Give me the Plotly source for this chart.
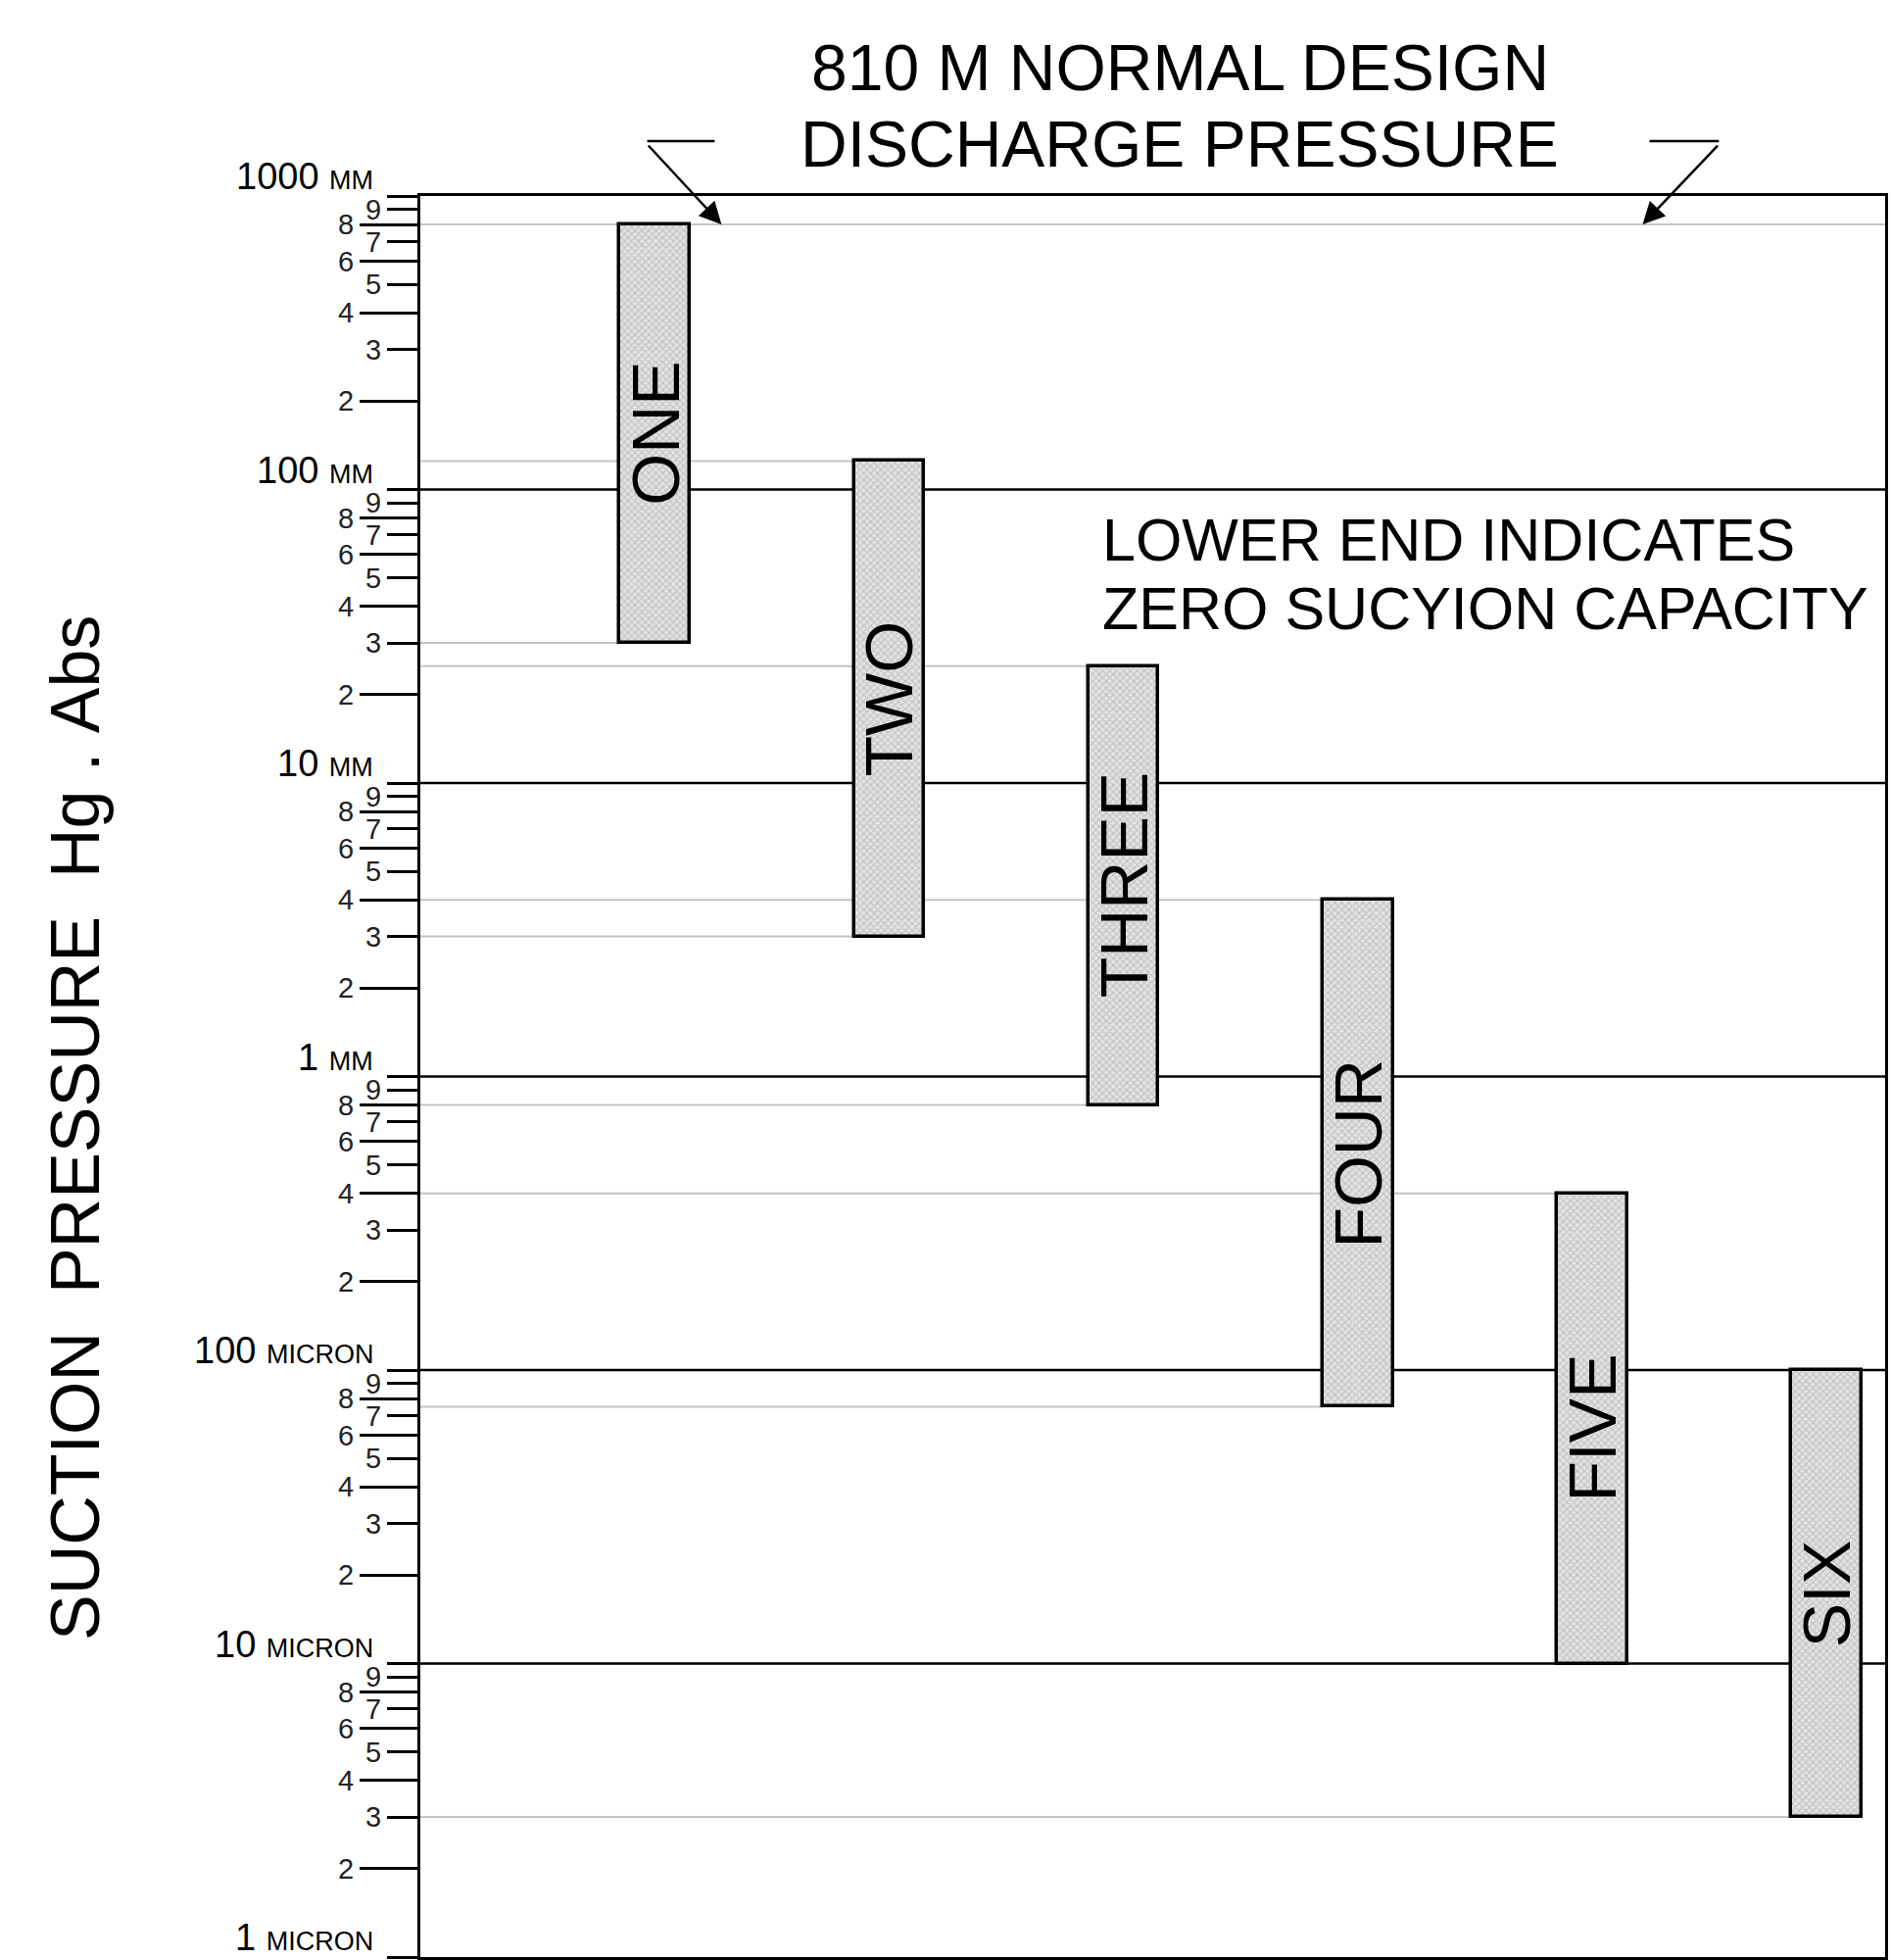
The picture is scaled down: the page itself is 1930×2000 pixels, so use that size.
import numpy as np
import plotly.graph_objects as go

# ---------------- data ----------------
pumps = ["ONE", "TWO", "THREE", "FOUR", "FIVE", "SIX"]
positions = [1, 2, 3, 4, 5, 6]
upper_mm = [800, 125, 25, 4, 0.4, 0.1]          # top of operating range (mm Hg abs)
lower_mm = [30, 3, 0.8, 0.075, 0.01, 0.003]      # zero-capacity end (mm Hg abs)
discharge_mm = 800                                # normal design discharge pressure

decades_mm = [0.001, 0.01, 0.1, 1, 10, 100, 1000]
decade_nums = ["1", "10", "100", "1", "10", "100", "1000"]
decade_units = ["MICRON", "MICRON", "MICRON", "MM", "MM", "MM", "MM"]
odd_minor = [3, 5, 7, 9]
even_minor = [2, 4, 6, 8]

title_lines = ["810 M NORMAL DESIGN", "DISCHARGE PRESSURE"]
note_lines = ["LOWER END INDICATES", "ZERO SUCYION CAPACITY"]
y_title = "SUCTION\u00a0\u00a0PRESSURE\u00a0\u00a0Hg\u00a0.\u00a0Abs"

# ---------------- layout constants ----------------
W, H = 1930, 2000
ML, MR, MT, MB = 429, 3, 200, 3
XMAX = 6.25
BAR_W = 0.3
FONT = "Liberation Sans, Arial, Helvetica, sans-serif"
plot_w = W - ML - MR
plot_h = H - MT - MB


def px_to_paper_x(px):
    return (px - ML) / plot_w


def px_to_paper_y(py):
    return (H - MB - py) / plot_h


fig = go.Figure()

fig.add_trace(go.Bar(
    x=positions,
    y=[u - l for u, l in zip(upper_mm, lower_mm)],
    base=lower_mm,
    width=BAR_W,
    marker=dict(
        color="#dadada",
        line=dict(color="black", width=3.5),
        pattern=dict(shape="x", size=5, solidity=0.35,
                     fgcolor="#9a9a9a", bgcolor="#e2e2e2"),
    ),
    hoverinfo="skip",
    showlegend=False,
))

# empty trace so the secondary (long-tick) axis is drawn
fig.add_trace(go.Scatter(x=[], y=[], yaxis="y2", mode="lines",
                         hoverinfo="skip", showlegend=False))

# ---------------- tick setup ----------------
short_vals, short_text = [], []
long_vals, long_text = [], []
for d in decades_mm:
    short_vals.append(d)
    short_text.append("")
for d in decades_mm[:-1]:
    for m in odd_minor:
        short_vals.append(d * m)
        short_text.append(str(m))
    for m in even_minor:
        long_vals.append(d * m)
        long_text.append(str(m))

yrange = [np.log10(decades_mm[0]), np.log10(decades_mm[-1])]

shapes = []
# light grey lines from axis to each bar end
for p, u, l in zip(positions, upper_mm, lower_mm):
    for v in (u, l):
        shapes.append(dict(type="line", xref="x", yref="y", x0=0, x1=p - BAR_W / 2,
                           y0=v, y1=v, line=dict(color="#c4c4c4", width=2), layer="below"))
# discharge pressure line
shapes.append(dict(type="line", xref="x", yref="y", x0=0, x1=XMAX, y0=discharge_mm, y1=discharge_mm,
                   line=dict(color="#c4c4c4", width=2), layer="below"))
# decade lines
for d in decades_mm[1:-1]:
    shapes.append(dict(type="line", xref="x", yref="y", x0=0, x1=XMAX, y0=d, y1=d,
                       line=dict(color="black", width=2.5), layer="below"))

# arrow horizontal legs
for x0, x1 in ((661, 730), (1686, 1757)):
    shapes.append(dict(type="line", xref="paper", yref="paper",
                       x0=px_to_paper_x(x0), x1=px_to_paper_x(x1),
                       y0=px_to_paper_y(144), y1=px_to_paper_y(144),
                       line=dict(color="black", width=2.5)))

annotations = []
# decade labels
for d, num, unit in zip(decades_mm, decade_nums, decade_units):
    annotations.append(dict(
        xref="paper", yref="y", x=0, y=np.log10(d), xanchor="right", yanchor="bottom",
        xshift=-46, yshift=-3, showarrow=False,
        text=f"{num} <span style='font-size:27px'>{unit}</span>",
        font=dict(family=FONT, size=38, color="black"),
    ))

# bar names
for p, u, l, name in zip(positions, upper_mm, lower_mm, pumps):
    annotations.append(dict(
        xref="x", yref="y", x=p, y=np.log10(np.sqrt(u * l)), text=name, textangle=-90,
        showarrow=False, font=dict(family=FONT, size=68, color="black"),
    ))

# title
for line, py in zip(title_lines, (69, 147)):
    annotations.append(dict(
        xref="paper", yref="paper", x=px_to_paper_x(1206), y=px_to_paper_y(py),
        xanchor="center", yanchor="middle", text=line, showarrow=False,
        font=dict(family=FONT, size=66, color="black"),
    ))

# note
for line, py in zip(note_lines, (551, 621)):
    annotations.append(dict(
        xref="paper", yref="paper", x=px_to_paper_x(1124), y=px_to_paper_y(py),
        xanchor="left", yanchor="middle", text=line, showarrow=False,
        font=dict(family=FONT, size=61, color="black"),
    ))

# y title
annotations.append(dict(
    xref="paper", yref="paper", x=0, xshift=77 - ML, y=px_to_paper_y(1151),
    xanchor="center", yanchor="middle", textangle=-90, text=y_title, showarrow=False,
    font=dict(family=FONT, size=70, color="black"),
))

# arrows to the discharge line
tip_y = np.log10(discharge_mm)
for tip_x, ax in (((737 - ML) / plot_w * XMAX, 661 - 737), ((1679 - ML) / plot_w * XMAX, 1757 - 1679)):
    annotations.append(dict(
        xref="x", yref="y", x=tip_x, y=tip_y, ax=ax, ay=-82, text="", showarrow=True,
        arrowhead=2, arrowsize=1.8, arrowwidth=2.5, arrowcolor="black", standoff=0,
    ))

fig.update_layout(
    width=W, height=H,
    margin=dict(l=ML, r=MR, t=MT, b=MB),
    paper_bgcolor="white", plot_bgcolor="white",
    font=dict(family=FONT, color="black"),
    bargap=0,
    xaxis=dict(range=[0, XMAX], showgrid=False, zeroline=False, showticklabels=False,
               ticks="", showline=True, mirror=True, linecolor="black", linewidth=3),
    yaxis=dict(type="log", range=yrange, showgrid=False, zeroline=False,
               tickmode="array", tickvals=short_vals, ticktext=short_text,
               ticks="outside", ticklen=31, tickwidth=3, tickcolor="black",
               tickfont=dict(family=FONT, size=29, color="#222222"),
               showline=True, mirror=True, linecolor="black", linewidth=3),
    yaxis2=dict(type="log", range=yrange, overlaying="y", side="left", anchor="x",
                showgrid=False, zeroline=False, showline=False,
                tickmode="array", tickvals=long_vals, ticktext=long_text,
                ticks="outside", ticklen=61, tickwidth=3, tickcolor="black",
                tickfont=dict(family=FONT, size=29, color="#222222")),
    shapes=shapes,
    annotations=annotations,
)

fig.write_html("out.html", config={"displayModeBar": False},
               post_script="document.body.style.margin='0';document.body.style.overflow='hidden';")
